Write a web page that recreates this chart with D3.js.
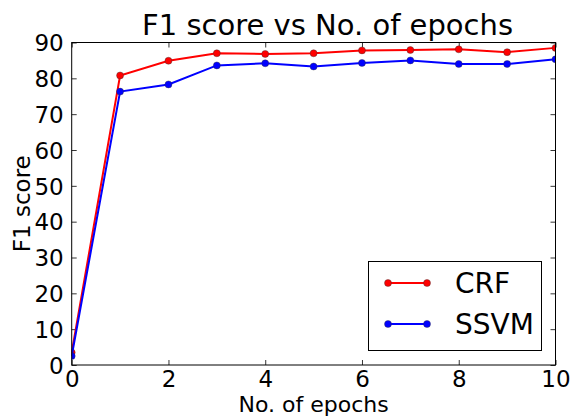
<!DOCTYPE html>
<html><head><meta charset="utf-8">
<script src="https://cdn.jsdelivr.net/npm/d3@7"></script>
<style>body{margin:0;background:#fff}svg{display:block}text{font-family:"DejaVu Sans",sans-serif;fill:#000}</style>
</head><body>
<script>
const epochs = [0,1,2,3,4,5,6,7,8,9,10];
const crf  = [3.5,80.8,84.9,87.0,86.8,87.0,87.8,87.9,88.1,87.3,88.5];
const ssvm = [2.5,76.3,78.3,83.6,84.2,83.3,84.3,85.0,84.0,84.0,85.3];
const xTicks = [0,2,4,6,8,10];
const yTicks = [0,10,20,30,40,50,60,70,80,90];
const seriesNames = ["CRF","SSVM"];
const seriesColors = ["#ff0000","#0000ff"];

const W=570,H=417, L=71.7, R=555.5, T=42.5, B=365;
const svg=d3.select("body").append("svg").attr("width",W).attr("height",H);
const x=d3.scaleLinear().domain([0,10]).range([L,R]);
const y=d3.scaleLinear().domain([0,90]).range([B,T]);

svg.append("clipPath").attr("id","c").append("rect").attr("x",L).attr("y",T).attr("width",R-L).attr("height",B-T);

const fs=23;
const gB=svg.append("g").attr("transform",`translate(0,${B})`).call(d3.axisBottom(x).tickValues(xTicks).tickSize(-5).tickPadding(7).tickSizeOuter(0));
const gT=svg.append("g").attr("transform",`translate(0,${T})`).call(d3.axisTop(x).tickValues(xTicks).tickSize(-5).tickFormat("").tickSizeOuter(0));
const gL=svg.append("g").attr("transform",`translate(${L},0)`).call(d3.axisLeft(y).tickValues(yTicks).tickSize(-5).tickPadding(8).tickSizeOuter(0));
const gR=svg.append("g").attr("transform",`translate(${R},0)`).call(d3.axisRight(y).tickValues(yTicks).tickSize(-5).tickFormat("").tickSizeOuter(0));
[gB,gT,gL,gR].forEach(g=>{g.select(".domain").remove();g.selectAll("line").attr("stroke","#000").attr("stroke-width",0.8);g.selectAll("text").attr("font-size",fs).attr("font-family","DejaVu Sans");});
gB.selectAll("text").attr("y",0).attr("dy",0).attr("transform","translate(0,21.7)");
gL.selectAll("text").attr("dy","0.36em");

const data=[crf,ssvm];
const line=d3.line().x((d,i)=>x(epochs[i])).y(d=>y(d));
data.forEach((s,k)=>{
  const g=svg.append("g").attr("clip-path","url(#c)");
  g.append("path").datum(s).attr("d",line).attr("fill","none").attr("stroke",seriesColors[k]).attr("stroke-width",2);
  g.selectAll("circle").data(s).join("circle").attr("cx",(d,i)=>x(epochs[i])).attr("cy",d=>y(d)).attr("r",3.5).attr("fill",seriesColors[k]).attr("stroke","#333").attr("stroke-width",0.4);
});

svg.append("rect").attr("x",L).attr("y",T).attr("width",R-L).attr("height",B-T).attr("fill","none").attr("stroke","#000").attr("stroke-width",1);

svg.append("text").attr("x",(L+R)/2+14).attr("y",35).attr("text-anchor","middle").attr("font-size",29).text("F1 score vs No. of epochs");
svg.append("text").attr("x",(L+R)/2).attr("y",412).attr("text-anchor","middle").attr("font-size",22).text("No. of epochs");
svg.append("text").attr("transform",`translate(30,${(T+B)/2}) rotate(-90)`).attr("text-anchor","middle").attr("font-size",23).text("F1 score");

const lg=svg.append("g");
lg.append("rect").attr("x",368.5).attr("y",261.5).attr("width",173).attr("height",89).attr("fill","#fff").attr("stroke","#000").attr("stroke-width",1);
seriesNames.forEach((n,k)=>{
  const yy=283+k*41;
  lg.append("line").attr("x1",388).attr("x2",427).attr("y1",yy).attr("y2",yy).attr("stroke",seriesColors[k]).attr("stroke-width",2);
  [388,427].forEach(cx=>lg.append("circle").attr("cx",cx).attr("cy",yy).attr("r",3.5).attr("fill",seriesColors[k]).attr("stroke","#333").attr("stroke-width",0.4));
  lg.append("text").attr("x",455).attr("y",yy).attr("dy","0.36em").attr("font-size",28).text(n);
});
</script>
</body></html>
